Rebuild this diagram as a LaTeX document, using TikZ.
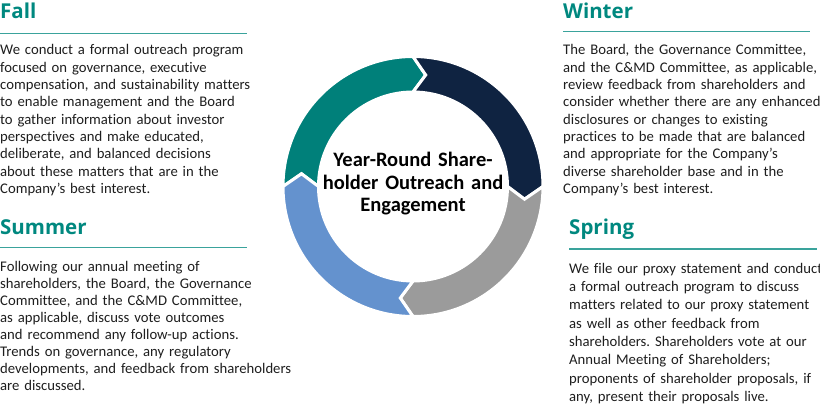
\documentclass[tikz,border=0pt]{standalone}
\usepackage{fontspec}
\setmainfont{Carlito}[Ligatures={TeX,NoCommon}]
\newfontfamily\hfont{Open Sans}
\frenchspacing
\definecolor{ringteal}{RGB}{0,128,122}
\definecolor{ringnavy}{RGB}{15,35,65}
\definecolor{ringgray}{RGB}{155,155,155}
\definecolor{ringblue}{RGB}{100,146,206}
\definecolor{headteal}{RGB}{0,136,127}
\definecolor{ruleteal}{RGB}{58,163,156}
\definecolor{bodyblack}{RGB}{30,30,30}
\newcommand{\Ro}{130pt}
\newcommand{\Ri}{94.5pt}
\newcommand{\Rm}{112.25pt}
\newcommand{\dl}{6.5}
\newcommand{\ringseg}[3]{%
  \filldraw[fill=#1, draw=white, line width=3pt, line join=miter]
    (#2:\Ro) arc[start angle=#2, end angle=#3, radius=\Ro]
    -- (#3-\dl:\Rm) -- (#3:\Ri)
    arc[start angle=#3, end angle=#2, radius=\Ri]
    -- (#2-\dl:\Rm) -- cycle;}
\begin{document}
\begin{tikzpicture}[x=1pt,y=1pt,
  headtext/.style={anchor=base west, inner sep=0pt, font=\hfont\bfseries\fontsize{20.5}{24}\selectfont, text=headteal},
  bodytext/.style={anchor=base west, inner sep=0pt, text width=330pt, align=left, text=bodyblack, execute at begin node={\frenchspacing\hyphenpenalty=10000\exhyphenpenalty=10000}},
  fallsk/.style={font=\fontsize{14.7}{17.3}\selectfont},
  summersk/.style={font=\fontsize{14.7}{17.1}\selectfont},
  springsk/.style={font=\fontsize{14.7}{18.3}\selectfont},
  rulel/.style={draw=ruleteal, line width=1.3pt},
  centertext/.style={anchor=base, inner sep=0pt, text width=220pt, align=center, font=\bfseries\fontsize{20.5}{22.6}\selectfont, text=black}]
\useasboundingbox (0,0) rectangle (820,405);
% ring
\begin{scope}[shift={(413,218.5)}]
  \ringseg{ringteal}{180}{90}
  \ringseg{ringnavy}{90}{0}
  \ringseg{ringgray}{0}{-90}
  \ringseg{ringblue}{-90}{-180}
\end{scope}
\node[centertext] (center) at (413,238.3) {Year-Round Share-\\holder Outreach and\\Engagement};
% Fall
\node[headtext] (fallh) at (0,386.5) {Fall};
\coordinate (fallr1) at (0,371.7);
\coordinate (fallr2) at (247,371.7);
\draw[rulel] (fallr1) -- (fallr2);
\node[bodytext, fallsk] (fallb) at (0,350) {We conduct a formal outreach program\\focused on governance, executive\\compensation, and sustainability matters\\to enable management and the Board\\to gather information about investor\\perspectives and make educated,\\deliberate, and balanced decisions\\about these matters that are in the\\Company’s best interest.};
% Winter
\node[headtext] (winterh) at (563,386.5) {Winter};
\coordinate (winterr1) at (563,373.5);
\coordinate (winterr2) at (810,373.5);
\draw[rulel] (winterr1) -- (winterr2);
\node[bodytext, fallsk] (winterb) at (563,350) {The Board, the Governance Committee,\\and the C\&MD Committee, as applicable,\\review feedback from shareholders and\\consider whether there are any enhanced\\disclosures or changes to existing\\practices to be made that are balanced\\and appropriate for the Company's\\diverse shareholder base and in the\\Company's best interest.};
% Summer
\node[headtext] (summerh) at (0,170) {Summer};
\coordinate (summerr1) at (0,157.5);
\coordinate (summerr2) at (247,157.5);
\draw[rulel] (summerr1) -- (summerr2);
\node[bodytext, summersk] (summerb) at (0,134) {Following our annual meeting of\\shareholders, the Board, the Governance\\Committee, and the C\&MD Committee,\\as applicable, discuss vote outcomes\\and recommend any follow-up actions.\\Trends on governance, any regulatory\\developments, and feedback from shareholders\\are discussed.};
% Spring
\node[headtext] (springh) at (569,170) {Spring};
\coordinate (springr1) at (569,156);
\coordinate (springr2) at (817,156);
\draw[rulel] (springr1) -- (springr2);
\node[bodytext, springsk] (springb) at (569,131.7) {We file our proxy statement and conduct\\a formal outreach program to discuss\\matters related to our proxy statement\\as well as other feedback from\\shareholders. Shareholders vote at our\\Annual Meeting of Shareholders;\\proponents of shareholder proposals, if\\any, present their proposals live.};
\end{tikzpicture}
\end{document}
